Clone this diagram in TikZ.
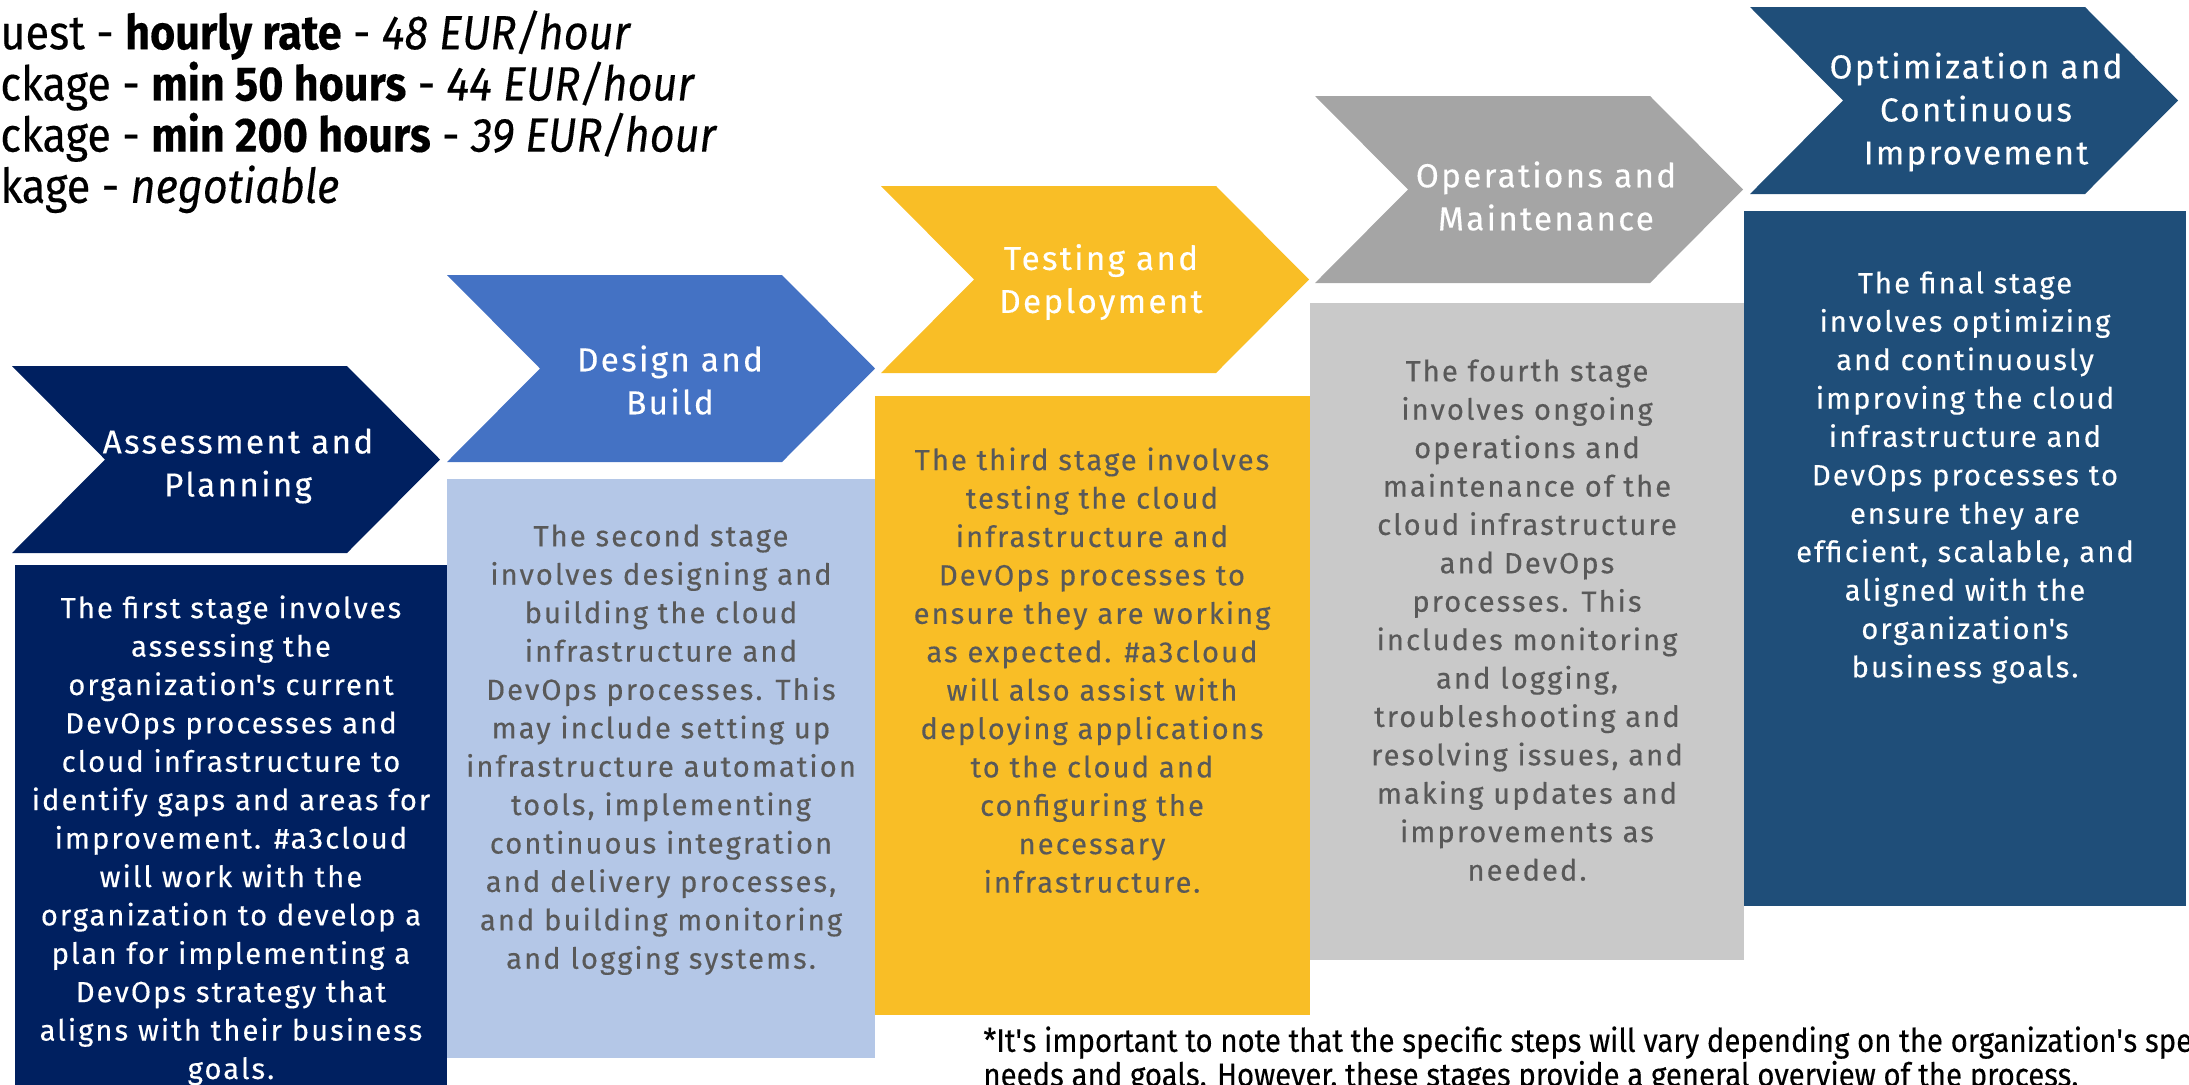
\documentclass[tikz,border=0pt]{standalone}
\usepackage{fontspec}
\setmainfont{Fira Sans}
\newfontfamily\bodyfont[LetterSpace=7, FakeBold=0.3]{Fira Sans}
\newfontfamily\dinfont[FakeStretch=0.9, FakeBold=0.3]{Fira Sans}

\definecolor{navyA}{HTML}{002060}
\definecolor{blueB}{HTML}{4472C4}
\definecolor{blueBox}{HTML}{B4C7E7}
\definecolor{goldC}{HTML}{F9BE26}
\definecolor{greyD}{HTML}{A5A5A5}
\definecolor{greyBox}{HTML}{C9C9C9}
\definecolor{navyE}{HTML}{1F4E79}
\definecolor{bodygrey}{HTML}{595959}

\begin{document}
\begin{tikzpicture}[x=0.5pt, y=-0.5pt,
   head/.style={text=white, align=center, inner sep=0pt, font=\bodyfont\fontsize{16.6}{21.5}\selectfont},
   body/.style={align=center, anchor=north, inner sep=0pt, font=\bodyfont\fontsize{14.6}{19.2}\selectfont},]
   \useasboundingbox (0,0) rectangle (2189,1084);
   \clip (0,0) rectangle (2189,1084);

   % boxes
   \fill[navyA] (15,565) rectangle (447,1100);
   \fill[blueBox] (447,479) rectangle (875,1058);
   \fill[goldC] (875,396) rectangle (1310,1015);
   \fill[greyBox] (1310,303) rectangle (1744,960);
   \fill[navyE] (1744,211) rectangle (2186,906);

   % chevrons
   \fill[navyA] (12,366) -- ++(335,0) -- ++(93,93.5) -- ++(-93,93.5) -- ++(-335,0) -- ++(93,-93.5) -- cycle;
   \fill[blueB] (447,275) -- ++(335,0) -- ++(93,93.5) -- ++(-93,93.5) -- ++(-335,0) -- ++(93,-93.5) -- cycle;
   \fill[goldC] (881,186) -- ++(335,0) -- ++(93,93.5) -- ++(-93,93.5) -- ++(-335,0) -- ++(93,-93.5) -- cycle;
   \fill[greyD] (1315,96) -- ++(335,0) -- ++(93,93.5) -- ++(-93,93.5) -- ++(-335,0) -- ++(93,-93.5) -- cycle;
   \fill[navyE] (1750,7) -- ++(335,0) -- ++(93,93.5) -- ++(-93,93.5) -- ++(-335,0) -- ++(93,-93.5) -- cycle;

   \node[head] (h1) at (238,466) {Assessment and\\Planning};
   \node[head] (h2) at (670,380) {Design and\\Build};
   \node[head] (h3) at (1101,282) {Testing and\\Deployment};
   \node[head] (h4) at (1546,196) {Operations and\\Maintenance};
   \node[head] (h5) at (1976,112) {Optimization and\\Continuous\\Improvement};

   \node[body, text=white] (d1) at (231,595) {The first stage involves\\assessing the\\organization\textquotesingle s current\\DevOps processes and\\cloud infrastructure to\\identify gaps and areas for\\improvement. \#a3cloud\\will work with the\\organization to develop a\\plan for implementing a\\DevOps strategy that\\aligns with their business\\goals.};
   \node[body, text=bodygrey] (d2) at (661,524) {The second stage\\involves designing and\\building the cloud\\infrastructure and\\DevOps processes. This\\may include setting up\\infrastructure automation\\tools, implementing\\continuous integration\\and delivery processes,\\and building monitoring\\and logging systems.};
   \node[body, text=bodygrey] (d3) at (1092,447) {The third stage involves\\testing the cloud\\infrastructure and\\DevOps processes to\\ensure they are working\\as expected. \#a3cloud\\will also assist with\\deploying applications\\to the cloud and\\configuring the\\necessary\\infrastructure.};
   \node[body, text=bodygrey] (d4) at (1527,359) {The fourth stage\\involves ongoing\\operations and\\maintenance of the\\cloud infrastructure\\and DevOps\\processes. This\\includes monitoring\\and logging,\\troubleshooting and\\resolving issues, and\\making updates and\\improvements as\\needed.};
   \node[body, text=white] (d5) at (1965,271) {The final stage\\involves optimizing\\and continuously\\improving the cloud\\infrastructure and\\DevOps processes to\\ensure they are\\efficient, scalable, and\\aligned with the\\organization\textquotesingle s\\business goals.};

   % price list
   \node[anchor=north west, align=left, inner sep=0pt, font=\dinfont\fontsize{24}{25.6}\selectfont] (rates) at (0,10) {uest - \textbf{hourly rate} - \textit{48 EUR/hour}\\ckage - \textbf{min 50 hours} - \textit{44 EUR/hour}\\ckage - \textbf{min 200 hours} - \textit{39 EUR/hour}\\kage - \textit{negotiable}};

   \node[anchor=north west, align=left, inner sep=0pt, font=\dinfont\fontsize{16.3}{16}\selectfont] (note) at (983,1026) {*It\textquotesingle s important to note that the specific steps will vary depending on the organization\textquotesingle s specific\\needs and goals. However, these stages provide a general overview of the process.};
\end{tikzpicture}
\end{document}
